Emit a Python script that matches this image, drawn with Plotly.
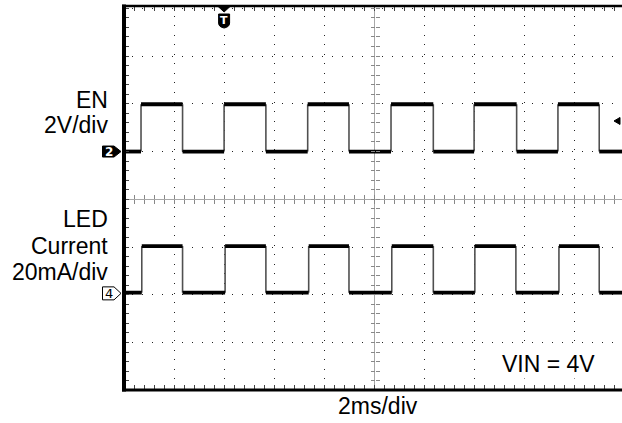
import plotly.graph_objects as go

# ---------------- data (read from the scope capture) ----------------
ms_per_div = 2            # 2ms/div
en_v_per_div = 2          # EN 2V/div
led_ma_per_div = 20       # LED current 20mA/div

en_rise_ms = [-9.34, -6.02, -2.68, 0.65, 3.97, 7.32]
en_fall_ms = [-7.68, -4.35, -1.03, 2.34, 5.67, 8.97]
en_low_v = 0.0
en_high_v = 1.98

led_rise_ms = [-9.31, -5.98, -2.64, 0.68, 4.00, 7.36]
led_fall_ms = [-7.68, -4.35, -1.03, 2.34, 5.64, 8.97]
led_low_ma = 0.3
led_high_ma = 19.8

trigger_ms = -6.02
trigger_level_v = 1.28

en_labels = ["EN", "2V/div"]
led_labels = ["LED", "Current", "20mA/div"]
x_label = "2ms/div"
vin_label = "VIN = 4V"

# ---------------- display setup ----------------
W, H = 622, 423
L, T, B = 122, 6, 33
x_range = [-10.1, 9.88]
y_range = [-3.994, 4.048]        # in divisions, center = 0
en_offset_div = 1.0
led_offset_div = -1.97
FONT = "Liberation Sans, Arial, sans-serif"


def en_div(v):
    return v / en_v_per_div + en_offset_div


def led_div(ma):
    return ma / led_ma_per_div + led_offset_div


def square_wave(rises, falls, lo, hi):
    """horizontal (levels) and vertical (edges) segments"""
    edges = sorted([(t, 'r') for t in rises] + [(t, 'f') for t in falls])
    hx, hy, vx, vy = [], [], [], []
    cur_t, cur_lvl = x_range[0], lo
    for t, kind in edges:
        hx += [cur_t, t, None]
        hy += [cur_lvl, cur_lvl, None]
        new_lvl = hi if kind == 'r' else lo
        vx += [t, t, None]
        vy += [cur_lvl, new_lvl, None]
        cur_t, cur_lvl = t, new_lvl
    hx += [cur_t, x_range[1]]
    hy += [cur_lvl, cur_lvl]
    return hx, hy, vx, vy


fig = go.Figure()

for rises, falls, lo, hi in [
    (en_rise_ms, en_fall_ms, en_div(en_low_v), en_div(en_high_v)),
    (led_rise_ms, led_fall_ms, led_div(led_low_ma), led_div(led_high_ma)),
]:
    hx, hy, vx, vy = square_wave(rises, falls, lo, hi)
    fig.add_trace(go.Scatter(x=vx, y=vy, mode="lines",
                             line=dict(color="#505050", width=1.6),
                             hoverinfo="skip", showlegend=False))
    fig.add_trace(go.Scatter(x=hx, y=hy, mode="lines",
                             line=dict(color="black", width=3.8),
                             hoverinfo="skip", showlegend=False))

# dummy traces so the centre-tick axes exist
for xa in ["x2", "x3"]:
    fig.add_trace(go.Scatter(x=[], y=[], xaxis=xa, yaxis="y", showlegend=False))
for ya in ["y2", "y3"]:
    fig.add_trace(go.Scatter(x=[], y=[], xaxis="x", yaxis=ya, showlegend=False))

tick_col = "#444"
x_center_pos = (0 - y_range[0]) / (y_range[1] - y_range[0])
y_center_pos = (0 - x_range[0]) / (x_range[1] - x_range[0])

fig.update_layout(
    width=W, height=H, autosize=False,
    margin=dict(l=L, r=0, t=T, b=B, pad=0),
    paper_bgcolor="white", plot_bgcolor="white",
    font=dict(family=FONT, color="black", size=23),
    showlegend=False,
    xaxis=dict(range=x_range, dtick=ms_per_div, tick0=0,
               showline=False, mirror="ticks", zeroline=True,
               zerolinecolor="#a8a8a8", zerolinewidth=1,
               showgrid=True, gridcolor="#222", gridwidth=1, griddash="1px,8.55px",
               ticks="inside", ticklen=5, tickcolor=tick_col, tickwidth=1,
               showticklabels=False,
               minor=dict(dtick=ms_per_div / 5, ticks="inside", ticklen=5,
                          tickcolor=tick_col, tickwidth=1, showgrid=False),
               fixedrange=True),
    yaxis=dict(range=y_range, dtick=1, tick0=0,
               showline=False, zeroline=True,
               zerolinecolor="#a8a8a8", zerolinewidth=1,
               showgrid=True, gridcolor="#222", gridwidth=1, griddash="1px,9px",
               ticks="inside", ticklen=7, tickcolor=tick_col, tickwidth=1,
               showticklabels=False,
               minor=dict(dtick=0.2, ticks="inside", ticklen=7,
                          tickcolor=tick_col, tickwidth=1, showgrid=False),
               fixedrange=True),
    xaxis2=dict(range=x_range, overlaying="x", anchor="free", position=x_center_pos,
                dtick=ms_per_div / 5, tick0=0, ticks="inside", ticklen=4,
                tickcolor="#888", showticklabels=False, showgrid=False,
                zeroline=False, showline=False, fixedrange=True),
    xaxis3=dict(range=x_range, overlaying="x", anchor="free", position=x_center_pos,
                dtick=ms_per_div / 5, tick0=0, ticks="outside", ticklen=4,
                tickcolor="#888", showticklabels=False, showgrid=False,
                zeroline=False, showline=False, fixedrange=True),
    yaxis2=dict(range=y_range, overlaying="y", anchor="free", position=y_center_pos,
                dtick=0.2, tick0=0, ticks="inside", ticklen=4,
                tickcolor="#888", showticklabels=False, showgrid=False,
                zeroline=False, showline=False, fixedrange=True),
    yaxis3=dict(range=y_range, overlaying="y", anchor="free", position=y_center_pos,
                dtick=0.2, tick0=0, ticks="outside", ticklen=4,
                tickcolor="#888", showticklabels=False, showgrid=False,
                zeroline=False, showline=False, fixedrange=True),
)

shapes = [
    # borders: left, top, bottom
    dict(type="line", xref="paper", yref="paper", x0=0.004, x1=0.004, y0=-0.004, y1=1.004,
         line=dict(color="black", width=4)),
    dict(type="line", xref="paper", yref="paper", x0=0, x1=1, y0=1, y1=1,
         line=dict(color="black", width=2.5)),
    dict(type="line", xref="paper", yref="paper", x0=0, x1=1, y0=0, y1=0,
         line=dict(color="black", width=3)),
    # channel 2 ground marker (filled)
    dict(type="path", xref="paper", yref="y", xsizemode="pixel", ysizemode="pixel",
         xanchor=0, yanchor=en_offset_div,
         path="M -19.5,5.5 L -8,5.5 L -1,0 L -8,-5.5 L -19.5,-5.5 Z",
         fillcolor="black", line=dict(color="black", width=1)),
    # channel 4 ground marker (outlined)
    dict(type="path", xref="paper", yref="y", xsizemode="pixel", ysizemode="pixel",
         xanchor=0, yanchor=led_offset_div,
         path="M -19.5,6.5 L -8,6.5 L -1,0 L -8,-6.5 L -19.5,-6.5 Z",
         fillcolor="white", line=dict(color="black", width=1)),
    # trigger position marker at top
    dict(type="path", xref="x", yref="paper", xsizemode="pixel", ysizemode="pixel",
         xanchor=trigger_ms, yanchor=1,
         path="M -6.5,0 L 6.5,0 L 0,-6 Z",
         fillcolor="black", line=dict(color="black", width=1)),
    dict(type="path", xref="x", yref="paper", xsizemode="pixel", ysizemode="pixel",
         xanchor=trigger_ms, yanchor=1,
         path="M -5.5,-8 L 5.5,-8 L 5.5,-17 Q 5.5,-21 0,-22 Q -5.5,-21 -5.5,-17 Z",
         fillcolor="black", line=dict(color="black", width=1)),
    # trigger level marker at right
    dict(type="path", xref="paper", yref="y", xsizemode="pixel", ysizemode="pixel",
         xanchor=1, yanchor=en_div(trigger_level_v),
         path="M -8,0 L -2,3.5 L -2,-3.5 Z",
         fillcolor="black", line=dict(color="black", width=1)),
]
fig.update_layout(shapes=shapes)

ann = []
# left channel labels
for txt, ypx in zip(en_labels, [99.5, 125.5]):
    ann.append(dict(text=txt, xref="paper", yref="paper", x=0, xshift=-12,
                    y=(H - B - ypx) / (H - T - B), xanchor="right", yanchor="middle",
                    showarrow=False, font=dict(size=23)))
for txt, ypx in zip(led_labels, [219, 246, 272]):
    ann.append(dict(text=txt, xref="paper", yref="paper", x=0, xshift=-12,
                    y=(H - B - ypx) / (H - T - B), xanchor="right", yanchor="middle",
                    showarrow=False, font=dict(size=23)))
# channel numbers
ann.append(dict(text="<b>2</b>", xref="paper", yref="y", x=0, xshift=-13.5,
                y=en_offset_div, showarrow=False, xanchor="center", yanchor="middle",
                font=dict(size=12, color="white", family="DejaVu Sans")))
ann.append(dict(text="4", xref="paper", yref="y", x=0, xshift=-13.5,
                y=led_offset_div, showarrow=False, xanchor="center", yanchor="middle",
                font=dict(size=13, color="black", family="DejaVu Sans")))
# trigger T
ann.append(dict(text="<b>T</b>", xref="x", yref="paper", x=trigger_ms, y=1,
                yshift=-14.5, showarrow=False, xanchor="center", yanchor="middle",
                font=dict(size=11, color="white", family="DejaVu Sans")))
# VIN and x-scale
ann.append(dict(text=vin_label, xref="paper", yref="paper", x=(548 - L) / 500,
                y=(H - B - 363.8) / (H - T - B), xanchor="center", yanchor="middle",
                showarrow=False, bgcolor="white", font=dict(size=23)))
ann.append(dict(text=x_label, xref="paper", yref="paper", x=(378 - L) / 500,
                y=(H - B - 405.7) / (H - T - B), xanchor="center", yanchor="middle",
                showarrow=False, font=dict(size=23)))
fig.update_layout(annotations=ann)

fig.write_html(
    "out.html",
    config={"displayModeBar": False, "staticPlot": True},
    post_script="document.body.style.margin='0px';document.body.style.padding='0px';"
                "document.documentElement.style.overflow='hidden';",
)
